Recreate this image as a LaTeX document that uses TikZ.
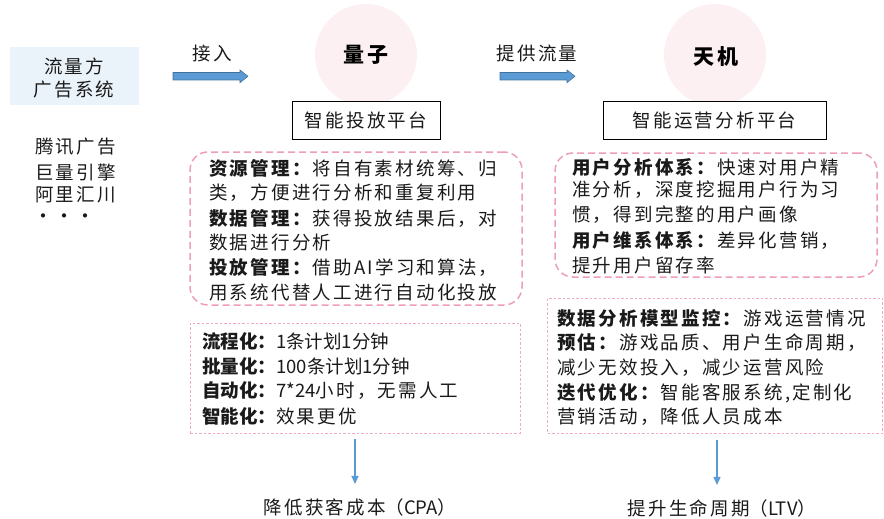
\documentclass[tikz,border=0pt]{standalone}
\usepackage{fontspec}
\setmainfont{Noto Sans CJK SC}[LetterSpace=12]
\newfontfamily\plainf{Noto Sans CJK SC}
\newfontfamily\spacedf{Noto Sans CJK SC}[LetterSpace=12]
\usetikzlibrary{arrows.meta}
\definecolor{txtc}{HTML}{1A1A1A}
\definecolor{pinkd}{HTML}{EE9DBB}
\definecolor{pinkdot}{HTML}{F2AAC3}
\definecolor{circfill}{HTML}{FDF0F3}
\definecolor{bluebox}{HTML}{EBF3FA}
\definecolor{arrowfill}{HTML}{5B9BD5}
\definecolor{arrowdraw}{HTML}{41719C}
\tikzset{
  txt/.style={anchor=west, inner sep=0pt, text=txtc, font=\fontsize{18.5}{20}\selectfont},
  ptxt/.style={anchor=west, inner sep=0pt, text=txtc, font=\plainf\fontsize{18.5}{20}\selectfont},
  ctxt/.style={inner sep=0pt, text=txtc, font=\fontsize{18.5}{20}\selectfont},
  dashbox/.style={draw=pinkd, line width=1.5pt, dash pattern=on 7pt off 4pt, rounded corners=18pt, inner sep=0pt},
  dotbox/.style={draw=pinkdot, line width=0.9pt, dash pattern=on 2.5pt off 2pt, inner sep=0pt},
  platbox/.style={draw=black, line width=0.9pt, fill=white, inner sep=0pt},
  circ/.style={circle, fill=circfill, minimum size=102pt, inner sep=0pt},
  blockarr/.style={fill=arrowfill, draw=arrowdraw, line width=0.6pt},
  downarr/.style={draw=arrowfill, line width=1.2pt, -{Triangle[width=7pt,length=8pt]}},
}
\begin{document}
\begin{tikzpicture}[x=1pt,y=-1pt]
\useasboundingbox (0,0) rectangle (884,519);
% source box
\node[fill=bluebox, minimum width=129pt, minimum height=58pt, inner sep=0pt] (src) at (74.5,76) {};
\node[ctxt] (src1) at (74,66) {流量方};
\node[ctxt] (src2) at (74,90) {广告系统};
% list
\node[txt] (ls1) at (35,147) {腾讯广告};
\node[txt] (ls2) at (35,172) {巨量引擎};
\node[txt] (ls3) at (35,195) {阿里汇川};
\node[txt, font=\plainf\fontsize{20}{20}\selectfont] (ls4) at (33,219) {\makebox[21pt]{•}\makebox[21pt]{•}\makebox[21pt]{•}};
% arrows
\node[ctxt] (in) at (212,53) {接入};
\fill[blockarr] (173,72.5) -- (240,72.5) -- (240,70) -- (248,76.3) -- (240,82.7) -- (240,80) -- (173,80) -- cycle;
\node[ctxt] (prov) at (537,53) {提供流量};
\fill[blockarr] (500,72.5) -- (567,72.5) -- (567,70) -- (575,76.3) -- (567,82.7) -- (567,80) -- (500,80) -- cycle;
% circles
\node[circ] (lz) at (366,55) {};
\node[inner sep=0pt, text=black, font=\bfseries\fontsize{21}{22}\selectfont] (lzt) at (366,55) {量子};
\node[circ] (tj) at (715,55) {};
\node[inner sep=0pt, text=black, font=\bfseries\fontsize{21}{22}\selectfont] (tjt) at (716,57) {天机};
% platform boxes
\node[platbox, minimum width=148pt, minimum height=38pt] (p1) at (366,120) {};
\node[ctxt] (p1t) at (366,120) {智能投放平台};
\node[platbox, minimum width=223pt, minimum height=38pt] (p2) at (714.5,120) {};
\node[ctxt] (p2t) at (714.5,120) {智能运营分析平台};
% left dashed box
\node[dashbox, minimum width=332pt, minimum height=153pt] (lb1) at (356,228.5) {};
\node[txt] (a1) at (209,168) {\textbf{资源管理：}将自有素材统筹、归};
\node[txt] (a2) at (209,193) {类，方便进行分析和重复利用};
\node[txt] (a3) at (209,218) {\textbf{数据管理：}获得投放结果后，对};
\node[txt] (a4) at (209,242) {数据进行分析};
\node[txt] (a5) at (209,267) {\textbf{投放管理：}借助AI学习和算法，};
\node[txt] (a6) at (209,292) {用系统代替人工进行自动化投放};
% right dashed box
\node[dashbox, minimum width=322pt, minimum height=124pt] (rb1) at (716,215) {};
\node[txt] (b1) at (572,167) {\textbf{用户分析体系：}快速对用户精};
\node[txt] (b2) at (572,190) {准分析，深度挖掘用户行为习};
\node[txt] (b3) at (572,215) {惯，得到完整的用户画像};
\node[txt] (b4) at (572,240) {\textbf{用户维系体系：}差异化营销，};
\node[txt] (b5) at (572,265) {提升用户留存率};
% left dotted box
\node[dotbox, minimum width=330pt, minimum height=110pt] (lb2) at (355,378) {};
\node[ptxt] (c1) at (202,341) {\textbf{流程化：}1条计划1分钟};
\node[ptxt] (c2) at (202,366) {\textbf{批量化：}100条计划1分钟};
\node[ptxt] (c3) at (202,391) {\textbf{自动化：}7*24{\spacedf 小时，无需人工}};
\node[ptxt] (c4) at (202,416) {\textbf{智能化：}{\spacedf 效果更优}};
% right dotted box
\node[dotbox, minimum width=335pt, minimum height=135pt] (rb2) at (715,365.5) {};
\node[txt] (d1) at (557,318) {\textbf{数据分析模型监控：}游戏运营情况};
\node[txt] (d2) at (557,343) {\textbf{预估：}游戏品质、用户生命周期，};
\node[txt] (d3) at (557,368) {减少无效投入，减少运营风险};
\node[txt] (d4) at (557,393) {\textbf{迭代优化：}智能客服系统,定制化};
\node[txt] (d5) at (557,417) {营销活动，降低人员成本};
% results
\node[ctxt] (cpa) at (360,507) {降低获客成本{\plainf（CPA）}};
\node[ctxt] (ltv) at (722,508) {提升生命周期{\plainf（LTV）}};
\draw[downarr, shorten >=14pt] ([yshift=-6pt]lb2.south) -- (lb2.south |- cpa.north);
\draw[downarr, shorten >=14pt] ([shift={(2pt,-7pt)}]rb2.south) -- ([xshift=2pt]rb2.south |- ltv.north);
\end{tikzpicture}
\end{document}
